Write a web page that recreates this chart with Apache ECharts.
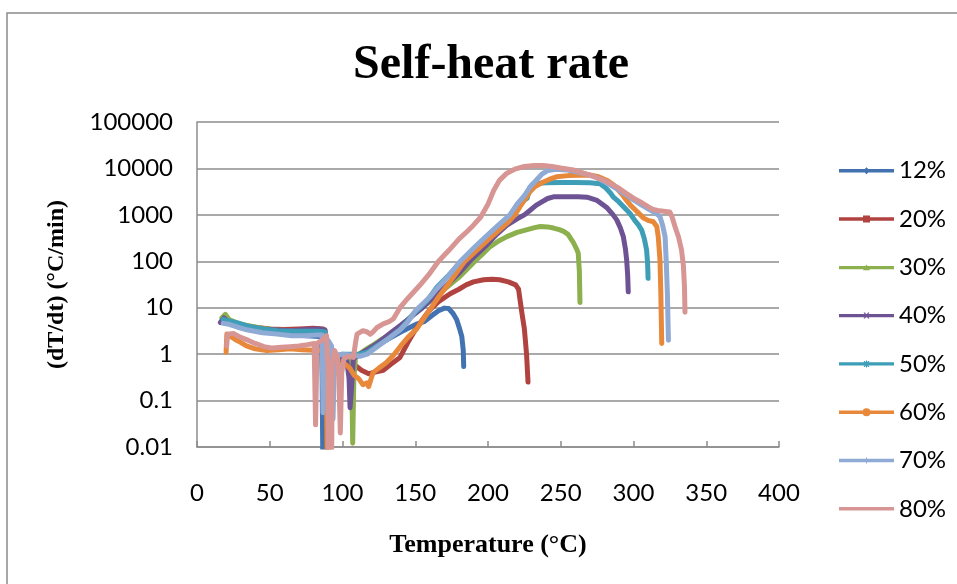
<!DOCTYPE html>
<html>
<head>
<meta charset="utf-8">
<script src="https://cdn.jsdelivr.net/npm/echarts@6/dist/echarts.min.js"></script>
<style>
html,body{margin:0;padding:0;background:#fff;}
#chart{width:957px;height:584px;}
</style>
</head>
<body>
<div id="chart"></div>
<script>
// ---- data: [temperature °C, dT/dt °C/min] ----
const seriesNames = ['12%','20%','30%','40%','50%','60%','70%','80%'];
const xTicks = [0,50,100,150,200,250,300,350,400];
const yTicks = [0.01,0.1,1,10,100,1000,10000,100000];

const s12 = [[18,5.5],[22,5.0],[28,4.3],[35,3.7],[45,3.2],[55,2.9],[65,2.7],[75,2.5],[84,2.4],[85.5,2.3],[86,0.3],[86.5,0.004],[88.5,0.004],[92,0.4],[97,0.7],[102,0.85],[110,0.9],[120,1.3],[130,2.0],[140,3.0],[150,4.3],[156,5.0],[162,7.0],[166,8.6],[170,9.8],[173,9.6],[176,7.5],[178.5,5.5],[180.5,3.5],[182,2.4],[183,1.2],[183.3,0.54]];

const s20 = [[18,5.0],[24,4.7],[30,4.3],[40,3.8],[50,3.5],[60,3.4],[70,3.5],[80,3.6],[87,3.5],[88,1.0],[89,0.15],[91,0.4],[96,0.7],[102,0.8],[108,0.6],[113,0.45],[118,0.38],[124,0.42],[128,0.45],[133,0.6],[139.5,0.85],[145,1.8],[150,3.3],[155,5.5],[160,9.0],[166,13.5],[174,20],[180,25],[185,31],[190,36],[197,40],[203,41],[208,40],[214,36],[219,31],[221,25],[222,15],[223.5,7],[225,3.5],[226.5,1.0],[227.5,0.25]];

const s30 = [[17,6.0],[19.5,7.2],[22,5.6],[28,4.6],[35,4.1],[45,3.6],[55,3.3],[65,3.2],[75,3.2],[83,3.3],[88,3.3],[89,1.2],[91,0.9],[96,0.8],[101,0.85],[105,0.9],[106.3,0.4],[107,0.012],[107.8,0.3],[109,0.9],[115,1.2],[120,1.5],[125,1.9],[130,2.4],[135,3.1],[140,4.0],[145,5.5],[150,8.0],[155,10.5],[160,14],[170,25],[180,45],[191,100],[196,140],[201,200],[207,270],[213,340],[220,420],[227,480],[232,530],[236,560],[241,550],[245,520],[249,480],[252,440],[255,380],[258.5,260],[261,180],[262,150],[262.8,60],[263.2,13]];

const s40 = [[16,4.8],[18.5,6.0],[21,5.2],[26,4.6],[35,3.9],[45,3.5],[55,3.3],[65,3.2],[75,3.4],[83,3.5],[88,3.3],[89,1.0],[91,0.7],[96,0.8],[100,0.9],[103,0.7],[104.5,0.3],[105.2,0.07],[106,0.15],[107.5,0.8],[112,1.0],[118,1.3],[125,1.8],[130,2.4],[135,3.2],[140,4.2],[145,5.6],[150,7.5],[155,10],[160,14],[170,27],[180,55],[188,105],[195,170],[200,240],[206,380],[213,600],[220,820],[225,1000],[229,1260],[233,1600],[237,1900],[241,2250],[245,2450],[255,2450],[262,2450],[268,2400],[275,2050],[279,1650],[282,1400],[286,1000],[288.5,780],[291,520],[293,340],[294.5,180],[295.3,107],[296,50],[296.4,22]];

const s50 = [[18,5.6],[22,5.2],[28,4.7],[35,4.0],[45,3.5],[55,3.2],[65,3.1],[75,3.1],[83,3.1],[88,3.0],[89,1.0],[90,0.12],[91.5,0.5],[95,0.9],[100,1.0],[107,1.0],[112,1.0],[117,1.1],[122,1.4],[130,2.0],[140,3.5],[150,8],[158,14],[165,28],[173,50],[181,95],[190,170],[198,310],[206,520],[215,950],[220,1500],[224,2000],[227,2300],[228.5,3800],[231,4700],[240,4900],[250,5000],[260,5000],[270,4900],[277,4700],[281,3800],[284,3000],[286,2450],[290,1900],[294,1400],[297.6,1070],[301,750],[303.5,600],[305.6,470],[307.5,300],[309,175],[309.7,90],[310,43]];

const s60 = [[20,1.1],[20.5,2.7],[23,2.4],[26,2.1],[30,1.8],[34,1.5],[40,1.3],[48,1.2],[56,1.25],[64,1.3],[72,1.25],[80,1.22],[88,1.2],[89,0.3],[89.5,0.004],[91,0.004],[93,0.4],[97,0.6],[102,0.6],[105,0.5],[108,0.35],[111,0.3],[114,0.22],[116.6,0.24],[118,0.2],[121,0.4],[125,0.5],[130,0.65],[135,0.95],[140,1.5],[145,2.3],[151,3.5],[156,6],[160,9],[166,17],[172,30],[178,55],[184,100],[192,170],[200,290],[208,480],[214,700],[218.5,1000],[222,1500],[226,2300],[229,3200],[232,4000],[237,4900],[242,5800],[247,6600],[255,7000],[262,7100],[270,7200],[276,6600],[282,5500],[286,4500],[289,3600],[292,2800],[295,2100],[298,1600],[301,1300],[304,1050],[307,850],[310,760],[313.6,710],[316,560],[317,340],[318.2,107],[318.8,20],[319.4,1.7]];

const s70 = [[18,4.6],[22,4.4],[28,3.8],[35,3.3],[45,2.9],[55,2.7],[65,2.5],[75,2.5],[83,2.6],[86,2.6],[86.6,0.055],[87.5,1.0],[90,2.0],[92.5,1.5],[93.5,0.04],[94.5,0.9],[100,1.0],[107,0.95],[112,0.9],[117,1.0],[122,1.3],[130,2.0],[139.5,3.3],[145,5.0],[150,8.5],[155,12],[160,17],[165,26],[172,45],[181,100],[190,190],[198,330],[206,560],[215,1000],[220,1700],[225,2600],[229,4000],[233,5500],[237,7500],[241,9000],[247,9600],[254,9300],[260,8600],[267,7600],[274,6500],[282,4800],[288,3700],[295,2700],[300,2100],[306,1600],[310,1350],[313.6,1170],[316,1050],[318.2,910],[320,600],[321.7,340],[322.5,100],[323.3,20],[324,2]];

const s80 = [[20.4,1.5],[21,2.7],[25,2.8],[30,2.3],[35,2.0],[40,1.7],[46,1.45],[52,1.35],[58,1.4],[64,1.45],[70,1.5],[76,1.6],[80.5,1.7],[81.5,0.03],[82.5,1.7],[86,2.0],[89,2.5],[90,0.5],[90.5,0.004],[92.5,0.004],[93,0.6],[94.5,1.2],[96.5,0.9],[97.5,0.3],[98.5,0.02],[99.5,0.4],[101,0.8],[104,0.9],[107.5,0.85],[109,1.8],[110,2.7],[114,3.2],[117,3.0],[119,2.7],[121,3.0],[123.5,3.7],[128,4.5],[132,5.0],[135,5.8],[139.5,10],[145,16],[153,30],[160,55],[166,100],[173,170],[180,300],[186,450],[190,600],[195,900],[200,1700],[204,3400],[208,5600],[213,7900],[219,9800],[225,11000],[232,11600],[238,11600],[244,11000],[250,10200],[258.6,9300],[265,8000],[272,6800],[280,5500],[288.5,4000],[295,2900],[300,2300],[306,1800],[310,1500],[313.6,1300],[318,1220],[322,1180],[325,1150],[326.5,900],[328.5,560],[331,330],[333,175],[334.3,80],[335,30],[335.4,8]];

const seriesData = [s12, s20, s30, s40, s50, s60, s70, s80];
const colors = ['#4272B0','#B0433F','#8DB04F','#6E5394','#3E9EB8','#E8883A','#8FAAD5','#D79593'];

// legend icons: line + marker (Excel-style)
const bar = 'M0,4.3 L55,4.3 L55,7.7 L0,7.7 Z ';
const markers = [
  'M27.5,2.5 L31,6 L27.5,9.5 L24,6 Z',
  'M24,2.5 L31,2.5 L31,9.5 L24,9.5 Z',
  'M27.5,2.8 L31,8.6 L24,8.6 Z',
  'M24.5,3 L26,3 L30.5,9 L29,9 Z M29,3 L30.5,3 L26,9 L24.5,9 Z',
  'M24.5,3 L26,3 L30.5,9 L29,9 Z M29,3 L30.5,3 L26,9 L24.5,9 Z M27,2.5 L28,2.5 L28,9.5 L27,9.5 Z',
  'M23.5,6 A4,4 0 1,1 31.5,6 A4,4 0 1,1 23.5,6 Z',
  'M27,3 L28,3 L28,9 L27,9 Z',
  ''
];

const chart = echarts.init(document.getElementById('chart'), null, {renderer:'canvas'});
const axisGray = '#8c8c8c';
const tickFont = 'Lato';

chart.setOption({
  animation: false,
  backgroundColor: '#ffffff',
  title: {
    text: 'Self-heat rate',
    left: 486, top: 35, textAlign: 'center',
    textStyle: {fontFamily: 'Liberation Serif', fontWeight: 'bold', fontSize: 48, color: '#000', lineHeight: 52}
  },
  graphic: [{
    type: 'rect', shape: {x: 7, y: 13, width: 1000, height: 1000},
    style: {fill: 'none', stroke: '#8a8a8a', lineWidth: 1.5}, silent: true, z: -1
  }],
  legend: {
    orient: 'vertical', left: 839, top: 158.7, padding: 0,
    itemWidth: 55, itemHeight: 12, itemGap: 24.3,
    selectedMode: false,
    textStyle: {fontFamily: tickFont, fontSize: 24, color: '#000', lineHeight: 24},
    data: seriesNames.map((n, i) => ({name: n, icon: 'path://' + bar + markers[i]}))
  },
  grid: {left: 197, right: 178, top: 122, bottom: 137, containLabel: false},
  xAxis: {
    type: 'value', min: xTicks[0], max: xTicks[xTicks.length - 1], interval: 50,
    name: 'Temperature (°C)', nameLocation: 'middle', nameGap: 85,
    nameTextStyle: {fontFamily: 'Liberation Serif', fontWeight: 'bold', fontSize: 26, color: '#000', lineHeight: 26},
    axisLine: {show: true, lineStyle: {color: axisGray, width: 1.5}},
    axisTick: {show: true, inside: true, length: 6, lineStyle: {color: axisGray, width: 1.5}},
    axisLabel: {fontFamily: tickFont, fontSize: 24, color: '#000', margin: 34},
    splitLine: {show: false}
  },
  yAxis: {
    type: 'log', logBase: 10, min: yTicks[0], max: yTicks[yTicks.length - 1], splitNumber: 7,
    name: '(dT/dt) (°C/min)', nameLocation: 'middle', nameGap: 128, nameRotate: 90,
    nameTextStyle: {fontFamily: 'Liberation Serif', fontWeight: 'bold', fontSize: 24, color: '#000', lineHeight: 24},
    axisLine: {show: true, lineStyle: {color: axisGray, width: 1.5}},
    axisTick: {show: false},
    axisLabel: {fontFamily: tickFont, fontSize: 24, color: '#000', margin: 24,
      formatter: v => String(+(+v).toPrecision(6))},
    splitLine: {show: true, lineStyle: {color: axisGray, width: 1.5}}
  },
  series: seriesData.map((d, i) => ({
    name: seriesNames[i], type: 'line', data: d,
    color: colors[i],
    symbol: 'none', showSymbol: false, smooth: false, silent: true,
    lineStyle: {width: 5, color: colors[i], cap: 'round', join: 'round'},
    emphasis: {disabled: true},
    clip: true
  }))
});
</script>
</body>
</html>
